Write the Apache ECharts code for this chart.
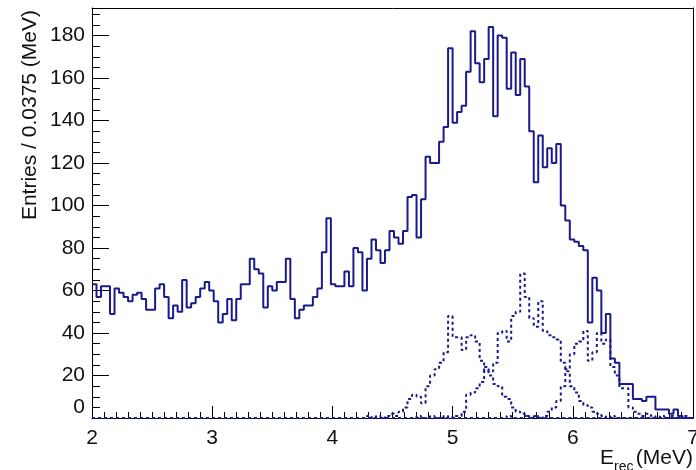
<!DOCTYPE html>
<html><head><meta charset="utf-8">
<script src="https://cdn.jsdelivr.net/npm/echarts@6/dist/echarts.min.js"></script>
<style>html,body{margin:0;padding:0;background:#fff}#c{width:696px;height:470px}</style>
</head><body><div id="c"></div>
<script>
const binStart = 2.0;
const binWidth = 0.0375;
const yTitle = 'Entries / 0.0375 (MeV)';
const xTitle = ['E', 'rec', ' (MeV)'];

const totalCounts = [
 63,57,62,62,49,61,59,57,55,58,
 59,56,51,51,61,63,57,47,53,50,
 65,52,54,57,61,64,60,55,45,49,
 56,46,56,63,63,75,70,68,52,62,
 60,64,64,75,56,47,51,53,53,57,
 61,78,94,63,62,62,69,62,80,78,
 60,75,84,79,73,79,88,85,82,88,
 104,105,85,103,123,120,120,130,137,174,
 139,144,147,163,182,167,158,169,184,142,
 180,179,155,172,152,169,156,135,111,133,
 118,127,120,129,100,93,84,83,81,79,
 45,66,60,40,49,28,26,16,16,16,
 9,9,8,10,10,4,4,4,2,4,
 1,0,0,0];

const compA = [
 0,0,0,0,0,0,0,0,0,0,
 0,0,0,0,0,0,0,0,0,0,
 0,0,0,0,0,0,0,0,0,0,
 0,0,0,0,0,0,0,0,0,0,
 0,0,0,0,0,0,0,0,0,0,
 0,0,0,0,0,0,0,0,0,0,
 0,1,0,1,0,1,2,1,3,5,
 9,11,10,7,15,20,23,26,31,48,
 38,38,32,38,39,36,27,22,20,16,
 15,10,9,5,3,2,1,0,1,0,
 0,0,0,0,0,0,0,0,0,0,
 0,0,0,0,0,0,0,0,0,0,
 0,0,0,0,0,0,0,0,0,0,
 0,0,0,0];

const compB = [
 0,0,0,0,0,0,0,0,0,0,
 0,0,0,0,0,0,0,0,0,0,
 0,0,0,0,0,0,0,0,0,0,
 0,0,0,0,0,0,0,0,0,0,
 0,0,0,0,0,0,0,0,0,0,
 0,0,0,0,0,0,0,0,0,0,
 0,0,0,0,0,0,0,0,0,0,
 0,0,1,0,0,1,0,0,1,0,
 1,1,3,11,12,14,17,24,22,26,
 40,41,36,48,50,68,57,47,43,55,
 41,39,38,37,26,22,15,12,8,6,
 5,3,2,1,0,1,0,0,0,0,
 0,0,0,0,0,0,0,0,0,0,
 0,0,0,0];

const compC = [
 0,0,0,0,0,0,0,0,0,0,
 0,0,0,0,0,0,0,0,0,0,
 0,0,0,0,0,0,0,0,0,0,
 0,0,0,0,0,0,0,0,0,0,
 0,0,0,0,0,0,0,0,0,0,
 0,0,0,0,0,0,0,0,0,0,
 0,0,0,0,0,0,0,0,0,0,
 0,0,0,0,0,0,0,0,0,0,
 0,0,0,0,0,0,0,0,0,0,
 0,0,1,0,0,0,1,0,1,0,
 1,3,5,8,15,23,30,35,36,41,
 27,31,40,35,37,24,20,14,14,5,
 3,2,1,2,1,0,1,0,1,0,
 0,1,0,0];

function toSteps(vals) {
  const pts = vals.map((v, i) => [binStart + i * binWidth, v]);
  pts.push([binStart + vals.length * binWidth, vals[vals.length - 1]]);
  return pts;
}

const FONT = 'Liberation Sans';
const INK = '#111';
const LINE = '#1a1a8c';

const chart = echarts.init(document.getElementById('c'));
const dashed = (vals) => ({
  type: 'line', step: 'end', data: toSteps(vals), symbol: 'none',
  lineStyle: {color: LINE, width: 2, type: [3, 3]}, z: 2
});
// Tick marks: thin strip grids whose split lines act as inside ticks.
const hiddenAxis = (gi) => ({type: 'value', gridIndex: gi, min: 0, max: 1, show: false});
const tickAxis = (gi, min, max, interval) => ({
  type: 'value', gridIndex: gi, min: min, max: max, interval: interval,
  axisLine: {show: false}, axisTick: {show: false}, axisLabel: {show: false},
  splitLine: {show: true, lineStyle: {color: '#000', width: 1}}
});
chart.setOption({
  animation: false,
  grid: [
    {left: 92, right: 3, top: 8, bottom: 52, outerBoundsMode: 'none'},
    {left: 92, width: 17, top: 8, bottom: 52, outerBoundsMode: 'none'},
    {left: 92, width: 8, top: 8, bottom: 52, outerBoundsMode: 'none'},
    {left: 92, right: 3, bottom: 52, height: 12, outerBoundsMode: 'none'},
    {left: 92, right: 3, bottom: 52, height: 6, outerBoundsMode: 'none'}
  ],
  xAxis: [{
    type: 'value', gridIndex: 0, min: 2, max: 7, interval: 1,
    axisLine: {show: true, onZero: false, lineStyle: {color: '#000'}},
    axisTick: {show: false},
    axisLabel: {fontSize: 21, margin: 10, color: INK, fontFamily: FONT},
    splitLine: {show: false}
  }, {
    type: 'value', gridIndex: 0, min: 2, max: 7, position: 'top',
    axisLine: {show: true, onZero: false, lineStyle: {color: '#000'}},
    axisTick: {show: false}, axisLabel: {show: false}, splitLine: {show: false}
  },
    hiddenAxis(1), hiddenAxis(2),
    tickAxis(3, 2, 7, 1),
    tickAxis(4, 2, 7, 0.1)
  ],
  yAxis: [{
    type: 'value', gridIndex: 0, min: 0, max: 193, interval: 20,
    axisLine: {show: true, lineStyle: {color: '#000'}},
    axisTick: {show: false},
    axisLabel: {fontSize: 21, margin: 7, color: INK, fontFamily: FONT,
      showMaxLabel: false, verticalAlignMinLabel: 'bottom'},
    splitLine: {show: false}
  }, {
    type: 'value', gridIndex: 0, min: 0, max: 193, position: 'right',
    axisLine: {show: true, lineStyle: {color: '#000'}},
    axisTick: {show: false}, axisLabel: {show: false}, splitLine: {show: false}
  },
    tickAxis(1, 0, 193, 20),
    tickAxis(2, 0, 193, 5),
    hiddenAxis(3), hiddenAxis(4)
  ],
  series: [
    dashed(compA), dashed(compB), dashed(compC),
    {type: 'line', step: 'end', data: toSteps(totalCounts), symbol: 'none',
     lineStyle: {color: LINE, width: 2}, z: 3}
  ],
  graphic: [
    {type: 'text', x: 41, y: 10, rotation: Math.PI / 2,
     style: {text: yTitle, fontSize: 21, fontFamily: FONT, fill: INK, align: 'right', verticalAlign: 'bottom'}},
    {type: 'text', x: 614, y: 469,
     style: {text: xTitle[0], fontSize: 21, fontFamily: FONT, fill: INK, align: 'right', verticalAlign: 'bottom'}},
    {type: 'text', x: 614, y: 474,
     style: {text: xTitle[1], fontSize: 14, fontFamily: FONT, fill: INK, align: 'left', verticalAlign: 'bottom'}},
    {type: 'text', x: 693, y: 469,
     style: {text: xTitle[2], fontSize: 21, fontFamily: FONT, fill: INK, align: 'right', verticalAlign: 'bottom'}}
  ]
});
</script></body></html>
